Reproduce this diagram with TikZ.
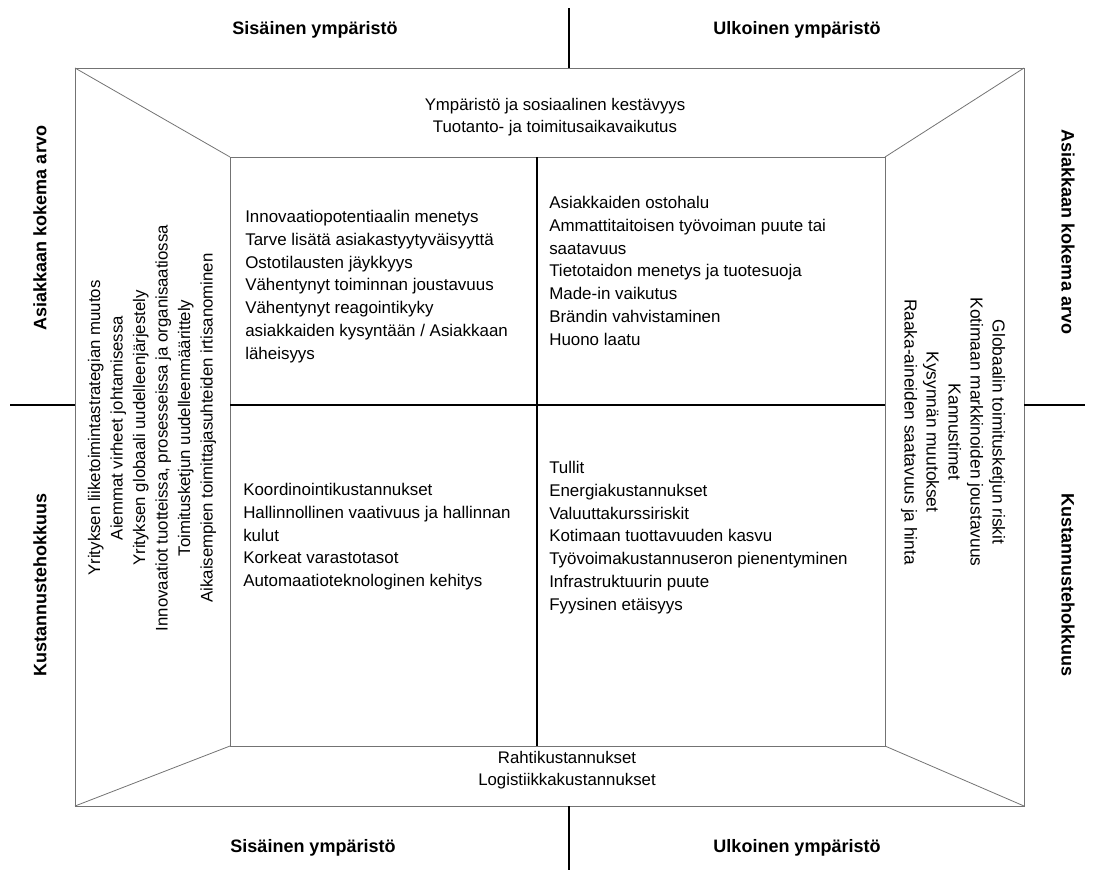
\documentclass[tikz,border=0pt]{standalone}
\usepackage{fontspec}
\setmainfont{Liberation Sans}
\usetikzlibrary{positioning}

\begin{document}
\begin{tikzpicture}[
    x=0.75pt, y=-0.75pt,
    frame/.style={draw=black!55, line width=0.6pt},
    divider/.style={draw=black, line width=0.9pt},
    heading/.style={font=\fontsize{13.5}{16}\selectfont\bfseries, inner sep=0pt},
    items/.style={font=\fontsize{12.7}{17.1}\selectfont, align=left,
                anchor=north west, inner sep=0pt},
    band/.style={font=\fontsize{12.6}{16.9}\selectfont, align=center, inner sep=0pt}
]
\useasboundingbox (0,0) rectangle (1094,872);

% corners of the two frames
\coordinate (oNW) at (75,68);
\coordinate (oNE) at (1024,68);
\coordinate (oSW) at (75,806);
\coordinate (oSE) at (1024,806);
\coordinate (iNW) at (230,157);
\coordinate (iNE) at (885,157);
\coordinate (iSW) at (230,746);
\coordinate (iSE) at (885,746);

% end points of the axis lines
\coordinate (topEnd) at (569,8);
\coordinate (topFoot) at (569,68);
\coordinate (botFoot) at (569,806);
\coordinate (botEnd) at (569,870);
\coordinate (leftEnd) at (10,405);
\coordinate (leftFoot) at (75,405);
\coordinate (rightFoot) at (1024,405);
\coordinate (rightEnd) at (1085,405);
\coordinate (midN) at (537,157);
\coordinate (midS) at (537,746);
\coordinate (midW) at (230,405);
\coordinate (midE) at (885,405);

\draw[frame] (oNW) rectangle (oSE);
\draw[frame] (iNW) rectangle (iSE);
\draw[frame] (oNW) -- (iNW);
\draw[frame] (oNE) -- (iNE);
\draw[frame] (oSW) -- (iSW);
\draw[frame] (oSE) -- (iSE);

\draw[divider] (midN) -- (midS);
\draw[divider] (midW) -- (midE);
\draw[divider] (topEnd) -- (topFoot);
\draw[divider] (botFoot) -- (botEnd);
\draw[divider] (leftEnd) -- (leftFoot);
\draw[divider] (rightFoot) -- (rightEnd);

% axis headings
\node[heading] (innerTop) at (315,30) {Sisäinen ympäristö};
\node[heading] (outerTop) at (797,30) {Ulkoinen ympäristö};
\node[heading] (innerBot) at (313,848) {Sisäinen ympäristö};
\node[heading] (outerBot) at (797,848) {Ulkoinen ympäristö};
\node[heading, rotate=90] (valueLeft) at (40,228) {Asiakkaan kokema arvo};
\node[heading, rotate=90] (costLeft) at (40,585) {Kustannustehokkuus};
\node[heading, rotate=-90] (valueRight) at (1068,232) {Asiakkaan kokema arvo};
\node[heading, rotate=-90] (costRight) at (1068,585) {Kustannustehokkuus};

% side bands
\node[band] (topBand) at (555,117)
    {Ympäristö ja sosiaalinen kestävyys\\Tuotanto- ja toimitusaikavaikutus};
\node[band] (botBand) at (567,770)
    {Rahtikustannukset\\Logistiikkakustannukset};
\node[band, rotate=90] (leftBand) at (152,428)
    {Yrityksen liiketoimintastrategian muutos\\
     Aiemmat virheet johtamisessa\\
     Yrityksen globaali uudelleenjärjestely\\
     Innovaatiot tuotteissa, prosesseissa ja organisaatiossa\\
     Toimitusketjun uudelleenmäärittely\\
     Aikaisempien toimittajasuhteiden irtisanominen};
\node[band, rotate=-90, font=\fontsize{13}{16.5}\selectfont] (rightBand) at (953,432)
    {Globaalin toimitusketjun riskit\\
     Kotimaan markkinoiden joustavuus\\
     Kannustimet\\
     Kysynnän muutokset\\
     Raaka-aineiden saatavuus ja hinta};

% quadrants
\node[items] (innerValue) at (245,210)
    {Innovaatiopotentiaalin menetys\\
     Tarve lisätä asiakastyytyväisyyttä\\
     Ostotilausten jäykkyys\\
     Vähentynyt toiminnan joustavuus\\
     Vähentynyt reagointikyky\\
     asiakkaiden kysyntään / Asiakkaan\\
     läheisyys};
\node[items] (outerValue) at (549,196)
    {Asiakkaiden ostohalu\\
     Ammattitaitoisen työvoiman puute tai\\
     saatavuus\\
     Tietotaidon menetys ja tuotesuoja\\
     Made-in vaikutus\\
     Brändin vahvistaminen\\
     Huono laatu};
\node[items] (innerCost) at (243,483)
    {Koordinointikustannukset\\
     Hallinnollinen vaativuus ja hallinnan\\
     kulut\\
     Korkeat varastotasot\\
     Automaatioteknologinen kehitys};
\node[items] (outerCost) at (549,461)
    {Tullit\\
     Energiakustannukset\\
     Valuuttakurssiriskit\\
     Kotimaan tuottavuuden kasvu\\
     Työvoimakustannuseron pienentyminen\\
     Infrastruktuurin puute\\
     Fyysinen etäisyys};
\end{tikzpicture}
\end{document}
